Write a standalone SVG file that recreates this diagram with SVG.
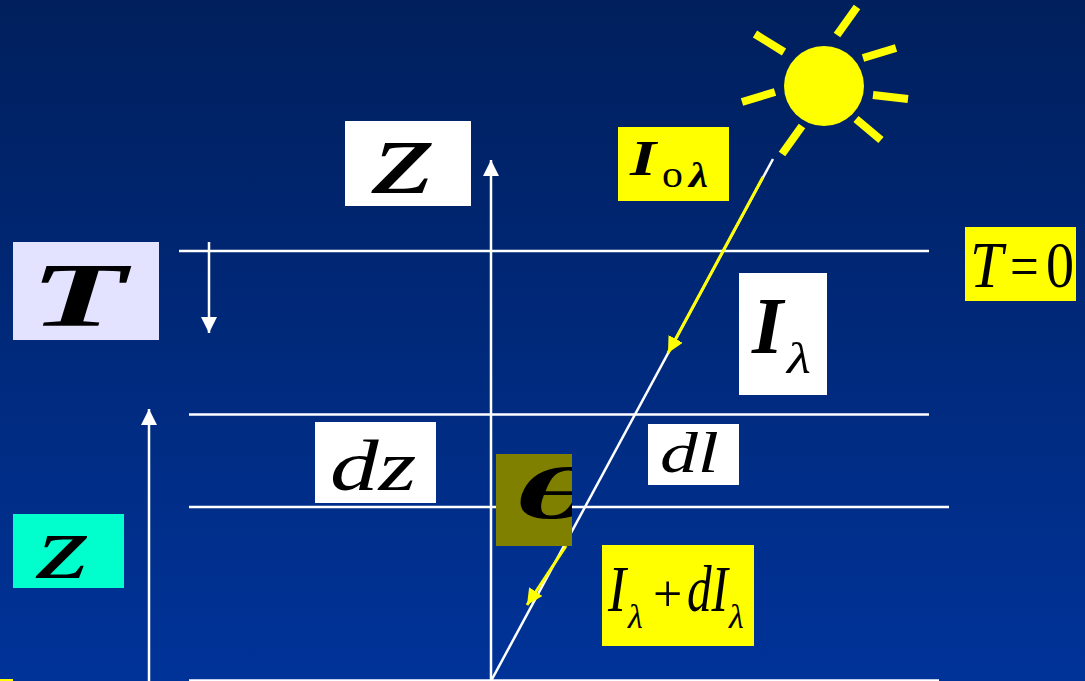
<svg xmlns="http://www.w3.org/2000/svg" width="1085" height="681" viewBox="0 0 1085 681">
<style>
.t{font-family:"Liberation Serif","Times New Roman",serif;font-style:italic;fill:#000}
.b{font-weight:bold}
.u{font-style:normal}
.h{stroke:#fff;stroke-width:2.5;fill:none}
.w{stroke:#fff;stroke-width:2.5;fill:none}
.y{stroke:#ff0;stroke-width:3;fill:none}
.r{stroke:#ff0;stroke-width:8;fill:none}
</style>
<defs>
<linearGradient id="bg" x1="0" y1="0" x2="0" y2="1"><stop offset="0" stop-color="#001f5c"/><stop offset="1" stop-color="#003399"/></linearGradient>
<marker id="wa" markerUnits="userSpaceOnUse" markerWidth="16" markerHeight="17" refX="16" refY="8" orient="auto"><path d="M0 0L16 8L0 16Z" fill="#fff"/></marker>
<marker id="ya" markerUnits="userSpaceOnUse" markerWidth="16" markerHeight="17" refX="16" refY="8" orient="auto"><path d="M0 0L16 8L0 16Z" fill="#ff0"/></marker>
<clipPath id="thclip"><rect x="496" y="454" width="76" height="92"/></clipPath>
</defs>
<rect width="1085" height="681" fill="url(#bg)"/>
<rect x="0" y="679" width="13" height="2" fill="#ff0"/>
<g id="connectors">
<path class="h" d="M179 251H929M189 414.500H929M189 507H949M189 680.500H939"/>
<path class="w" d="M491 681V160" marker-end="url(#wa)"/>
<path class="w" d="M149 681V409" marker-end="url(#wa)"/>
<path class="w" d="M209 242V333" marker-end="url(#wa)"/>
<path class="w" d="M773 159L491 681"/>
<path class="y" d="M763 177L668 353" marker-end="url(#ya)"/>
<path class="y" d="M566 546L527 605" marker-end="url(#ya)"/>
</g>
<g id="sun">
<circle cx="824" cy="86" r="40" fill="#ff0"/>
<path class="r" d="M837 35L857 7M755 34L784 52M863 58L896 48M873 95L908 99M856 119L881 140M802 126L782 154M742 102L775 92"/>
</g>
<g id="label-z-top"><rect x="345" y="121" width="126" height="85" fill="#fff"/><text class="t" transform="translate(373 193) scale(1.45 1)" font-size="108">z</text></g>
<g id="label-T"><rect x="13" y="242" width="146" height="98" fill="#e3e3ff"/><text class="t b" transform="translate(30 326) scale(1.75 1)" font-size="90">T</text></g>
<g id="label-z-cyan"><rect x="13" y="514" width="111" height="74" fill="#0fc"/><text class="t" transform="translate(37 578) scale(1.45 1)" font-size="92">z</text></g>
<g id="label-I0"><rect x="618" y="127" width="111" height="74" fill="#ff0"/><text class="t b" transform="translate(630 175) scale(1.35 1)" font-size="50">I</text><text class="t u" transform="translate(662 187) scale(1.1 1)" font-size="38">o</text><text class="t b" transform="translate(689 187) scale(1.2 1)" font-size="36">λ</text></g>
<g id="label-T0"><rect x="965" y="227" width="111" height="74" fill="#ff0"/><text class="t" transform="translate(970 287) scale(.9 1)" font-size="66">T</text><text class="t u" transform="translate(1010 286) scale(.85 1)" font-size="60">=</text><text class="t u" transform="translate(1046 287) scale(.85 1)" font-size="66">0</text></g>
<g id="label-Il"><rect x="739" y="273" width="88" height="122" fill="#fff"/><text class="t b" x="752" y="353" font-size="80">I</text><text class="t" transform="translate(787 373) scale(1.25 1)" font-size="44">λ</text></g>
<g id="label-dz"><rect x="315" y="422" width="121" height="81" fill="#fff"/><text class="t" transform="translate(330 490) scale(1.35 1)" font-size="72">dz</text></g>
<g id="label-dl"><rect x="648" y="424" width="91" height="61" fill="#fff"/><text class="t" transform="translate(660 472) scale(1.35 1)" font-size="56">dl</text></g>
<g id="label-theta"><rect x="496" y="454" width="76" height="92" fill="#808000"/><g clip-path="url(#thclip)"><text class="t b" transform="translate(514 518) scale(2.4 1)" font-size="72">θ</text></g></g>
<g id="label-Idl"><rect x="602" y="545" width="152" height="101" fill="#ff0"/><text class="t" x="608" y="611" font-size="66" textLength="18" lengthAdjust="spacingAndGlyphs">I</text><text class="t" x="628" y="628" font-size="34">λ</text><text class="t u" x="653" y="611" font-size="52">+</text><text class="t" x="687" y="611" font-size="66" textLength="41" lengthAdjust="spacingAndGlyphs">dI</text><text class="t" x="729" y="628" font-size="34">λ</text></g>
</svg>
